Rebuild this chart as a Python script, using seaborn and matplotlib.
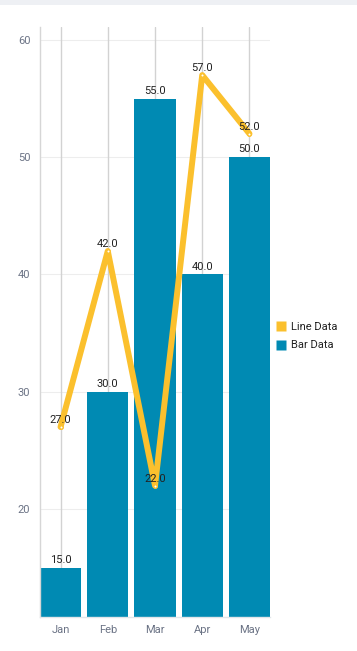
import matplotlib
matplotlib.use("Agg")
import matplotlib.pyplot as plt
import seaborn as sns
import pandas as pd
from matplotlib.lines import Line2D
from matplotlib.patches import Rectangle

months = ["Jan", "Feb", "Mar", "Apr", "May"]
bar_values = [15.0, 30.0, 55.0, 40.0, 50.0]
line_values = [27.0, 42.0, 22.0, 57.0, 52.0]
y_ticks = [20, 30, 40, 50, 60]

BAR_COLOR = "#008AB3"
LINE_COLOR = "#FBC02D"
TICK_COLOR = "#6B7385"
TEXT_COLOR = "#222222"

sns.set_theme(style="white")
plt.rcParams["font.family"] = ["Roboto", "DejaVu Sans"]

df = pd.DataFrame({"month": months, "bar": bar_values, "line": line_values})

fig = plt.figure(figsize=(3.57, 6.51), dpi=100)
ax = fig.add_axes([40 / 357, 1 - 617 / 651, 230 / 357, 590 / 651])

# faint top shadow
fig.patches.append(Rectangle((0, 1 - 5 / 651), 1, 5 / 651, transform=fig.transFigure,
                             facecolor="#EEF0F4", edgecolor="none", zorder=0))

sns.barplot(data=df, x="month", y="bar", order=months, color=BAR_COLOR,
            width=0.87, saturation=1, linewidth=0, ax=ax, zorder=2)
sns.pointplot(data=df, x="month", y="line", order=months, color=LINE_COLOR,
              markers="o", linestyles="-", linewidth=4.3, markersize=2.5,
              markerfacecolor="white", markeredgecolor=LINE_COLOR, markeredgewidth=1,
              ax=ax, zorder=3)

for i, v in enumerate(bar_values):
    ax.text(i, v + 0.25, f"{v:.1f}", ha="center", va="bottom", fontsize=8,
            color=TEXT_COLOR, zorder=5)
for i, v in enumerate(line_values):
    ax.text(i, v + 0.15, f"{v:.1f}", ha="center", va="bottom", fontsize=8,
            color=TEXT_COLOR, zorder=5)

ax.set_xlim(-0.435, 4.435)
ax.set_ylim(10.8, 61.1)
ax.set_yticks(y_ticks)
ax.set_yticklabels([str(t) for t in y_ticks])
ax.set_xlabel("")
ax.set_ylabel("")

# grid
for t in y_ticks:
    ax.axhline(t, color="#EDEDED", lw=0.8, zorder=0)
for i in range(len(months)):
    ax.axvline(i, color="#D2D2D2", lw=1.0, zorder=1)

for s in ["top", "right"]:
    ax.spines[s].set_visible(False)
ax.spines["left"].set_color("#D6D6D6")
ax.spines["left"].set_linewidth(1.0)
ax.spines["bottom"].set_color("#E2E6EA")
ax.spines["bottom"].set_linewidth(1.0)
ax.tick_params(axis="both", length=0, labelsize=8, colors=TICK_COLOR)
ax.tick_params(axis="y", pad=7)
ax.tick_params(axis="x", pad=6)

handles = [
    Line2D([0], [0], marker="s", color="none", markerfacecolor=LINE_COLOR,
           markeredgecolor="none", markersize=7, label="Line Data"),
    Line2D([0], [0], marker="s", color="none", markerfacecolor=BAR_COLOR,
           markeredgecolor="none", markersize=7, label="Bar Data"),
]
leg = fig.legend(handles=handles, loc="center left",
                 bbox_to_anchor=(272 / 357, 1 - 336 / 651), frameon=False,
                 fontsize=8, handlelength=0.8, handletextpad=0.5,
                 labelspacing=0.8, borderaxespad=0)
for t in leg.get_texts():
    t.set_color(TEXT_COLOR)

fig.savefig("out.png", dpi=100)
